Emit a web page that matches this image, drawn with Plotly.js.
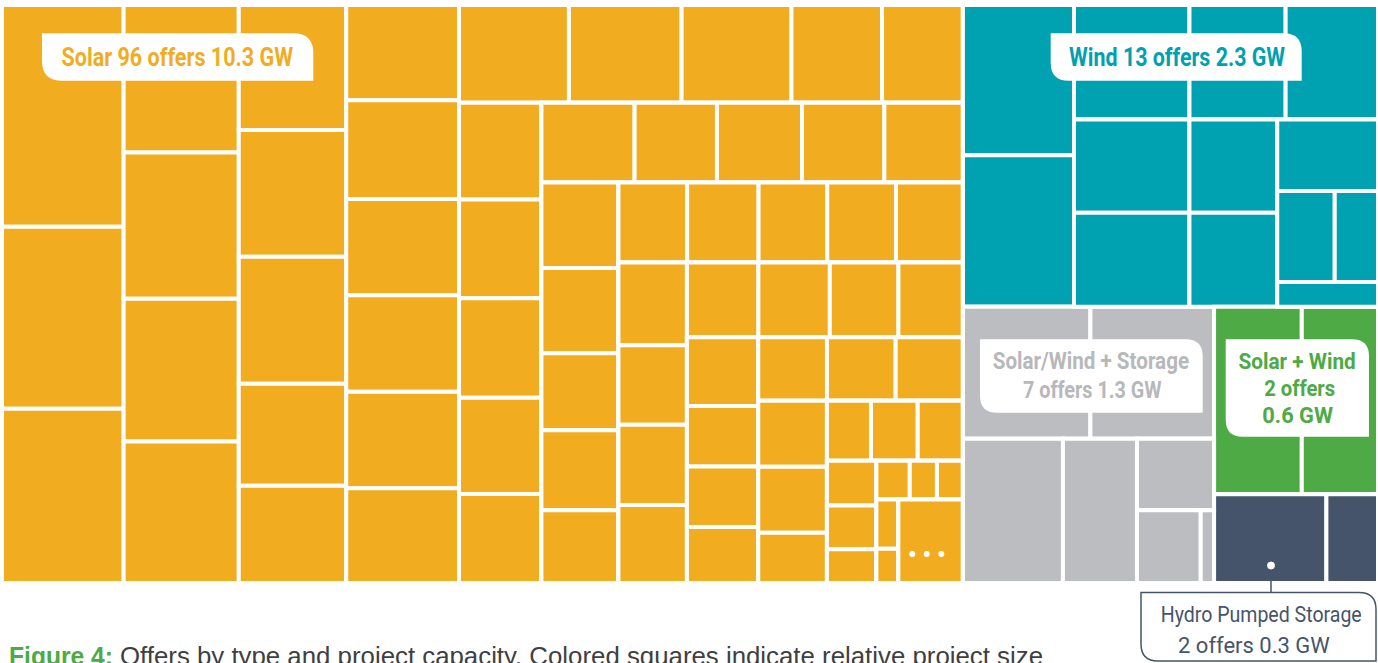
<!DOCTYPE html>
<html>
<head>
<meta charset="utf-8">
<script src="https://cdn.plot.ly/plotly-3.0.1.min.js"></script>
<style>html,body{margin:0;padding:0;background:#fff;overflow:hidden}</style>
</head>
<body>
<div id="chart" style="width:1378px;height:663px"></div>
<script>
// ---------------- DATA (GW per offer) ----------------
const categories  = ['Solar', 'Wind', 'Solar/Wind + Storage', 'Solar + Wind', 'Hydro Pumped Storage'];
const offerCounts = [96, 13, 7, 2, 2];
const totalGW     = [10.3, 2.3, 1.3, 0.6, 0.3];

// Solar: 72 individually drawn offers; the final value groups the 24 smallest offers ("…" cell)
const solarGW = [
  0.500, 0.411, 0.393,
  0.315, 0.312, 0.305, 0.302,
  0.249, 0.253, 0.253, 0.203, 0.194,
  0.199, 0.207, 0.201, 0.202, 0.202, 0.198,
  0.199, 0.204, 0.199, 0.164, 0.146,
  0.148, 0.151, 0.152, 0.147, 0.136,
  0.138, 0.122, 0.126, 0.122, 0.116,
  0.122, 0.122, 0.110, 0.114, 0.104,
  0.102, 0.106, 0.102, 0.102, 0.099,
  0.105, 0.101, 0.102, 0.099,
  0.099, 0.099, 0.095, 0.089,
  0.091, 0.080, 0.080, 0.074,
  0.081, 0.081, 0.079,
  0.084, 0.084, 0.064,
  0.049, 0.052, 0.050,
  0.041, 0.040, 0.031,
  0.024, 0.0195, 0.0185,
  0.020, 0.014,
  0.0995
];
const windGW      = [0.310, 0.313, 0.245, 0.204, 0.196, 0.200, 0.201, 0.152, 0.153, 0.134, 0.097, 0.073, 0.046];
const swStorageGW = [0.313, 0.303, 0.268, 0.198, 0.102, 0.086, 0.018];
const solarWindGW = [0.305, 0.265];
const hydroGW     = [0.185, 0.085];

const catColors = ['#F1AC1F', '#00A1B0', '#BCBDC0', '#4DAA45', '#45546B'];

// ---------------- TILING SPEC (strip sizes & orientation: c = column, r = row) ----------------
const solarTiling = {n: [3,4,5,6,5,5,5,5,5,4,4,4,3,3,3,3,3,2,1], dir: 'ccccrcrcrcrcrcrcrcr'};
const windTiling  = {n: [2,3,2,2,1,2,1], dir: 'crccrrr'};
const swsTiling   = {n: [2,1,1,1,2], dir: 'rccrr'};
const swTiling    = {n: [1,1], dir: 'cc'};
const hydroTiling = {n: [1,1], dir: 'cc'};

// ---------------- build hierarchy ----------------
const ids = [], parents = [], vals = [], cols = [];
function add(id, parent, v, c) { ids.push(id); parents.push(parent); vals.push(v); cols.push(c); }

// slice-dice: containers at even depth lay children left->right, odd depth top->bottom
function tile(catId, depth, values, spec, color) {
  let container = catId, cDepth = depth, k = 0, g = 0;
  spec.n.forEach((n, s) => {
    const want = spec.dir[s] === 'c' ? 0 : 1;
    if ((cDepth & 1) !== want) {
      const gid = catId + '_g' + (g++);
      add(gid, container, 0, color);
      container = gid; cDepth++;
    }
    const sid = catId + '_s' + s;
    add(sid, container, 0, color);
    for (let i = 0; i < n; i++) { add(catId + '_o' + (k + 1), sid, values[k], color); k++; }
  });
}

add('root', '', 0, '#ffffff');
add('Solar', 'root', 0, catColors[0]);
add('R1', 'root', 0, '#ffffff');
add('Wind', 'R1', 0, catColors[1]);
add('R2', 'R1', 0, '#ffffff');
add('SWS', 'R2', 0, catColors[2]);
add('R3', 'R2', 0, '#ffffff');
add('SW', 'R3', 0, catColors[3]);
add('Hydro', 'R3', 0, catColors[4]);
tile('Solar', 1, solarGW, solarTiling, catColors[0]);
tile('Wind', 2, windGW, windTiling, catColors[1]);
tile('SWS', 3, swStorageGW, swsTiling, catColors[2]);
tile('SW', 4, solarWindGW, swTiling, catColors[3]);
tile('Hydro', 4, hydroGW, hydroTiling, catColors[4]);

const trace = {
  type: 'treemap',
  ids: ids, labels: ids, parents: parents, values: vals,
  branchvalues: 'remainder', sort: false,
  marker: {colors: cols, line: {color: '#ffffff', width: 4}, pad: {t: 0, l: 0, r: 0, b: 0}, depthfade: false},
  tiling: {packing: 'slice-dice', pad: 0},
  pathbar: {visible: false},
  leaf: {opacity: 1},
  root: {color: '#ffffff'},
  textinfo: 'none',
  hoverinfo: 'skip'
};

// ---------------- decorations ----------------
const M = {l: 2, r: 0, t: 5, b: 80};
const W = 1378, H = 663, PW = W - M.l - M.r, PH = H - M.t - M.b;
const X = px => (px - M.l) / PW;
const Y = py => 1 - (py - M.t) / PH;

function boxPath(x0, y0, x1, y1, r) {
  return `M${X(x0)},${Y(y0)} L${X(x1 - r)},${Y(y0)} Q${X(x1)},${Y(y0)} ${X(x1)},${Y(y0 + r)} ` +
         `L${X(x1)},${Y(y1)} L${X(x0 + r)},${Y(y1)} Q${X(x0)},${Y(y1)} ${X(x0)},${Y(y1 - r)} Z`;
}
function box(x0, y0, x1, y1, r, lineColor) {
  return {type: 'path', xref: 'paper', yref: 'paper', path: boxPath(x0, y0, x1, y1, r),
          fillcolor: '#ffffff', line: lineColor ? {color: lineColor, width: 1.5} : {width: 0}, layer: 'above'};
}
function dot(cx, cy, r, fill, lineColor) {
  return {type: 'circle', xref: 'paper', yref: 'paper', x0: X(cx - r), x1: X(cx + r), y0: Y(cy + r), y1: Y(cy - r),
          fillcolor: fill, line: lineColor ? {color: lineColor, width: 1} : {width: 0}, layer: 'above'};
}

const labelFont = 'Roboto, "Noto Sans", sans-serif';
const sans = '"Liberation Sans", Arial, sans-serif';
function ann(text, px, py, size, color, weight, family, xanchor) {
  const a = {text: text, xref: 'paper', yref: 'paper', x: X(px), y: Y(py), xanchor: xanchor || 'center', yanchor: 'middle',
          showarrow: false, font: {family: family || labelFont, size: size, color: color, weight: weight || 'normal'}};
  if (xanchor === 'left') a.align = 'left';
  return a;
}

const shapes = [
  box(42, 33.3, 313.3, 80.7, 20),
  box(1050.7, 33.3, 1301.7, 80.7, 18),
  box(980, 339.3, 1202.7, 412.7, 17),
  box(1225.7, 339.3, 1369, 436.7, 17),
  box(1141, 592.5, 1376, 661, 17, catColors[4]),
  {type: 'line', xref: 'paper', yref: 'paper', x0: X(1271), x1: X(1271), y0: Y(565.5), y1: Y(592.5),
   line: {color: catColors[4], width: 1.5}, layer: 'above'},
  dot(1271, 565.5, 3.5, '#ffffff', '#ffffff'),
  dot(912.3, 554, 3, '#ffffff'),
  dot(926.7, 554, 3, '#ffffff'),
  dot(941.3, 554, 3, '#ffffff')
];

const annotations = [
  ann(`${categories[0]} ${offerCounts[0]} offers ${totalGW[0]} GW`, 177.5, 57.9, 25, catColors[0], 'bold'),
  ann(`${categories[1]} ${offerCounts[1]} offers ${totalGW[1]} GW`, 1177, 57.5, 25, catColors[1], 'bold'),
  ann(categories[2], 1091.3, 361.3, 23.5, '#B7B8BB', 'bold'),
  ann(`${offerCounts[2]} offers ${totalGW[2]} GW`, 1092.5, 390.5, 23.5, '#B7B8BB', 'bold'),
  ann(categories[3], 1297, 361, 22, catColors[3], 'bold'),
  ann(`${offerCounts[3]} offers`, 1299.5, 388.8, 22, catColors[3], 'bold'),
  ann(`${totalGW[3]} GW`, 1297, 415.3, 22, catColors[3], 'bold'),
  ann(categories[4], 1260.5, 614, 22, catColors[4], 'normal'),
  ann(`${offerCounts[4]} offers ${totalGW[4]} GW`, 1254, 645, 22, catColors[4], 'normal'),
  ann('Figure 4:', 7, 656, 25, '#4DAA45', 'bold', sans, 'left'),
  ann('Offers by type and project capacity. Colored squares indicate relative project size', 118, 656, 25.5, '#3f3f3f', 'normal', sans, 'left')
];
// rendered text widths in pixels, applied as SVG textLength
const textWidths = [231.6, 216, 196.3, 138.7, 117.3, 71, 70.7, 201, 151.7, 104, 923];

const layout = {
  width: W, height: H, margin: M,
  paper_bgcolor: '#ffffff', plot_bgcolor: '#ffffff',
  showlegend: false, shapes: shapes, annotations: annotations
};

Plotly.newPlot('chart', [trace], layout, {displayModeBar: false, staticPlot: true}).then(gd => {
  textWidths.forEach((w, i) => {
    const t = gd.querySelector(`.annotation[data-index="${i}"] .annotation-text`);
    if (t && w) { t.setAttribute('textLength', w); t.setAttribute('lengthAdjust', 'spacingAndGlyphs'); }
  });
});
</script>
</body>
</html>
